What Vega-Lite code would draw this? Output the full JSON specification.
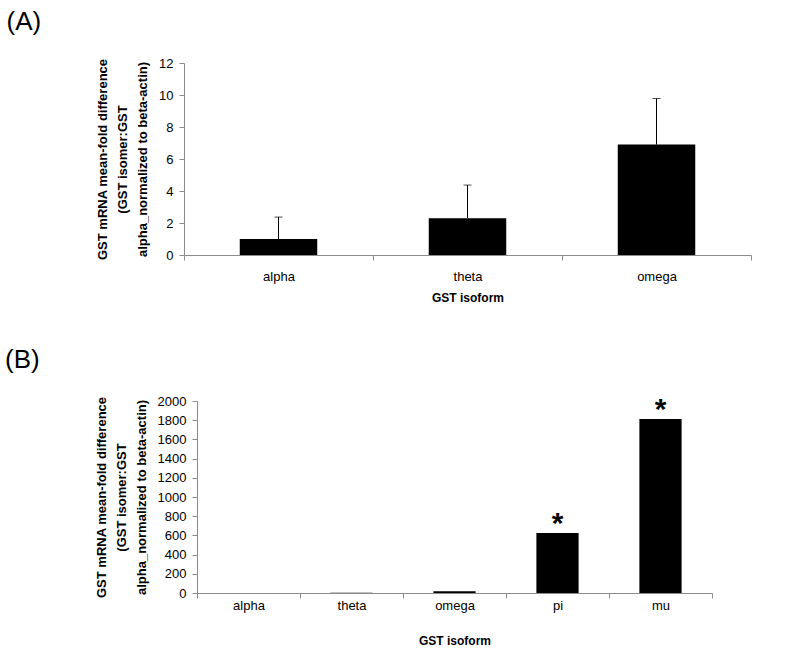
{
  "$schema": "https://vega.github.io/schema/vega-lite/v6.json",
  "background": "white",
  "padding": {"left": 5, "top": 9, "right": 5, "bottom": 5},
  "spacing": 44,
  "config": {
    "font": "Liberation Sans",
    "view": {"stroke": null},
    "axis": {
      "grid": false,
      "domainColor": "#8c8c8c",
      "tickColor": "#8c8c8c",
      "tickSize": 5,
      "labelColor": "#000000",
      "labelFont": "Liberation Sans",
      "labelFontSize": 13,
      "titleFont": "Liberation Sans",
      "titleColor": "#000000",
      "titleFontWeight": "bold"
    },
    "title": {"font": "Liberation Sans", "fontSize": 26, "fontWeight": "normal", "color": "#000000"}
  },
  "vconcat": [
    {
      "title": {"text": "(A)", "anchor": "start", "frame": "bounds", "dx": -90, "offset": 22},
      "width": 567,
      "height": 192,
      "data": {"values": [
        {"isoform": "alpha", "mean": 1.0, "upper": 2.37},
        {"isoform": "theta", "mean": 2.3, "upper": 4.37},
        {"isoform": "omega", "mean": 6.9, "upper": 9.78}
      ]},
      "encoding": {
        "x": {"field": "isoform", "type": "nominal", "sort": null,
              "scale": {"paddingInner": 0, "paddingOuter": 0},
              "axis": {"title": "GST isoform", "labelAngle": 0, "tickBand": "extent", "labelPadding": 10, "titleFontSize": 12, "titlePadding": 9}},
        "y": {"field": "mean", "type": "quantitative",
              "scale": {"domain": [0, 12], "nice": false},
              "axis": {"values": [0, 2, 4, 6, 8, 10, 12], "labelOverlap": false, "labelPadding": 6, "titleFontSize": 13, "titleLineHeight": 20, "titlePadding": 9,
                       "title": ["GST mRNA mean-fold difference", "(GST isomer:GST", "alpha_normalized to beta-actin)"]}}
      },
      "layer": [
        {
          "mark": {"type": "bar", "color": "#000000", "width": {"band": 0.41}}
        },
        {
          "mark": {"type": "rule", "color": "#000000", "strokeWidth": 1},
          "encoding": {
            "y2": {"field": "upper"}
          }
        },
        {
          "mark": {"type": "tick", "color": "#000000", "size": 8, "thickness": 1},
          "encoding": {
            "y": {"field": "upper", "type": "quantitative"}
          }
        }
      ]
    },
    {
      "title": {"text": "(B)", "anchor": "start", "frame": "bounds", "dx": -90, "offset": 22},
      "width": 528,
      "height": 192,
      "data": {"values": [
        {"isoform": "alpha", "mean": 1.0, "star": ""},
        {"isoform": "theta", "mean": 2.3, "star": ""},
        {"isoform": "omega", "mean": 18, "star": ""},
        {"isoform": "pi", "mean": 625, "star": "*"},
        {"isoform": "mu", "mean": 1812, "star": "*"}
      ]},
      "encoding": {
        "x": {"field": "isoform", "type": "nominal", "sort": null,
              "scale": {"paddingInner": 0, "paddingOuter": 0, "range": [13, 528]},
              "axis": {"title": "GST isoform", "labelAngle": 0, "tickBand": "extent", "labelPadding": 1, "titleFontSize": 12, "titlePadding": 23}},
        "y": {"field": "mean", "type": "quantitative",
              "scale": {"domain": [0, 2000], "nice": false},
              "axis": {"values": [0, 200, 400, 600, 800, 1000, 1200, 1400, 1600, 1800, 2000], "format": "d", "labelOverlap": false, "offset": -13, "labelPadding": 6, "titleFontSize": 13, "titleLineHeight": 20, "titlePadding": 9,
                       "title": ["GST mRNA mean-fold difference", "(GST isomer:GST", "alpha_normalized to beta-actin)"]}}
      },
      "layer": [
        {"mark": {"type": "bar", "color": "#000000", "width": {"band": 0.41}}},
        {
          "mark": {"type": "text", "fontSize": 30, "fontWeight": "bold", "baseline": "alphabetic", "align": "center", "color": "#000000"},
          "encoding": {"text": {"field": "star", "type": "nominal"}}
        }
      ]
    }
  ]
}
